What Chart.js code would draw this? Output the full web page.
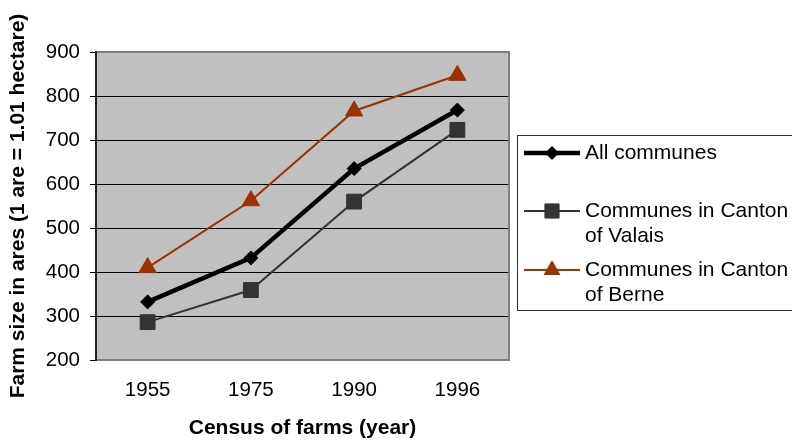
<!DOCTYPE html>
<html><head><meta charset="utf-8">
<script src="https://cdn.jsdelivr.net/npm/chart.js@4"></script>
<style>html,body{margin:0;padding:0;background:#fff;overflow:hidden}canvas{display:block}</style>
</head><body>
<canvas id="c" width="792" height="441"></canvas>
<script>
const categories = ['1955', '1975', '1990', '1996'];
const allCommunes = [332, 432, 635, 768];
const valais = [286, 359, 560, 723];
const berne = [410, 562, 766, 847];
const yTicks = [200, 300, 400, 500, 600, 700, 800, 900];
const seriesNames = ['All communes', 'Communes in Canton of Valais', 'Communes in Canton of Berne'];
const legendLines = [['All communes'], ['Communes in Canton', 'of Valais'], ['Communes in Canton', 'of Berne']];
const xTitle = 'Census of farms (year)';
const yTitle = 'Farm size in ares (1 are = 1.01 hectare)';

const FONT = "'Liberation Sans', Arial, Helvetica, sans-serif";
Chart.defaults.font.family = FONT;
Chart.defaults.color = '#000';

const plotFrame = {
  id: 'plotFrame',
  beforeDraw(chart) {
    const {ctx, chartArea: a} = chart;
    ctx.save();
    ctx.fillStyle = '#fff';
    ctx.fillRect(0, 0, chart.width, chart.height);
    ctx.fillStyle = '#C0C0C0';
    ctx.fillRect(a.left, a.top, a.right - a.left, a.bottom - a.top);
    ctx.restore();
  },
  beforeDatasetsDraw(chart) {
    const {ctx, chartArea: a} = chart;
    ctx.save();
    ctx.strokeStyle = '#808080';
    ctx.lineWidth = 2;
    ctx.beginPath();
    ctx.moveTo(a.left, a.top); ctx.lineTo(a.right, a.top);
    ctx.lineTo(a.right, a.bottom); ctx.lineTo(a.left, a.bottom);
    ctx.stroke();
    ctx.strokeStyle = '#222';
    ctx.beginPath();
    ctx.moveTo(a.left, a.top - 1); ctx.lineTo(a.left, a.bottom + 1);
    ctx.stroke();
    ctx.restore();
  }
};

const legendBox = {
  id: 'legendBox',
  afterDraw(chart) {
    const ctx = chart.ctx;
    ctx.save();
    ctx.strokeStyle = '#333';
    ctx.lineWidth = 1;
    ctx.strokeRect(517.5, 135.5, 300, 175);
    const ys = [153, 211, 270];
    const radii = [6.5, 10, 9];
    chart.data.datasets.forEach((ds, i) => {
      const y = ys[i];
      ctx.strokeStyle = ds.borderColor;
      ctx.lineWidth = ds.borderWidth;
      ctx.beginPath();
      ctx.moveTo(524, y); ctx.lineTo(580, y);
      ctx.stroke();
      ctx.fillStyle = ds.pointBackgroundColor;
      ctx.strokeStyle = ds.pointBorderColor;
      ctx.lineWidth = 1;
      Chart.helpers.drawPoint(ctx, {pointStyle: ds.pointStyle, radius: radii[i], borderWidth: 1, rotation: 0}, 552, y);
      ctx.fillStyle = '#000';
      ctx.font = '21px ' + FONT;
      ctx.textBaseline = 'middle';
      ctx.textAlign = 'left';
      legendLines[i].forEach((t, j) => ctx.fillText(t, 585, y + j * 25));
    });
    ctx.restore();
  }
};

new Chart(document.getElementById('c'), {
  type: 'line',
  data: {
    labels: categories,
    datasets: [
      {label: seriesNames[0], data: allCommunes, borderColor: '#000', borderWidth: 4.5,
       pointStyle: 'rectRot', pointRadius: 7, pointBackgroundColor: '#000', pointBorderColor: '#000', pointBorderWidth: 1, tension: 0},
      {label: seriesNames[1], data: valais, borderColor: '#333333', borderWidth: 2,
       pointStyle: 'rect', pointRadius: 10.5, pointBackgroundColor: '#333333', pointBorderColor: '#333333', pointBorderWidth: 1, tension: 0},
      {label: seriesNames[2], data: berne, borderColor: '#993300', borderWidth: 2,
       pointStyle: 'triangle', pointRadius: 10, pointBackgroundColor: '#993300', pointBorderColor: '#993300', pointBorderWidth: 1, tension: 0}
    ]
  },
  options: {
    responsive: false,
    animation: false,
    devicePixelRatio: 1,
    layout: {padding: {top: 52, right: 283, left: 0, bottom: 0}},
    plugins: {legend: {display: false}, tooltip: {enabled: false}},
    scales: {
      x: {
        type: 'category', offset: true,
        grid: {display: false, drawTicks: false},
        border: {display: false},
        ticks: {font: {size: 20.5}, color: '#000', padding: 18, maxRotation: 0, autoSkip: false},
        title: {display: true, text: xTitle, font: {size: 21, weight: 'bold'}, color: '#000', padding: {top: 0, bottom: 0.5}},
        afterFit(s) { s.height = 81; }
      },
      y: {
        min: 200, max: 900,
        afterBuildTicks(s) { s.ticks = yTicks.map(v => ({value: v})); },
        grid: {color: '#000', lineWidth: 1, drawTicks: true, tickLength: 6},
        border: {display: false},
        ticks: {font: {size: 20.5}, color: '#000', padding: 10},
        title: {display: true, text: yTitle, font: {size: 21, weight: 'bold'}, color: '#000', padding: {top: 5.5, bottom: 0}},
        afterFit(s) { s.width = 96; }
      }
    }
  },
  plugins: [plotFrame, legendBox]
});
</script>
</body></html>
